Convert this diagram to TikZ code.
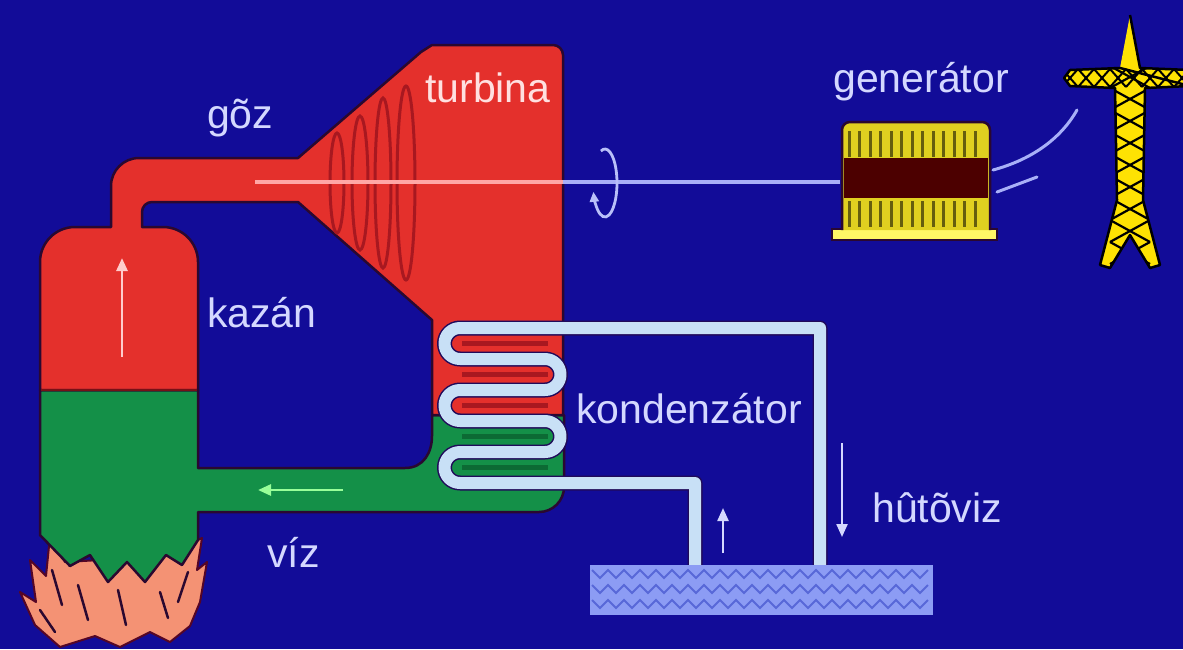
\documentclass[tikz,border=0pt]{standalone}
\usepackage{fontspec}
\setmainfont{Liberation Sans}
\usetikzlibrary{arrows.meta}
\definecolor{bg}{HTML}{120C98}
\definecolor{steam}{HTML}{E4302C}
\definecolor{steamdark}{HTML}{A81820}
\definecolor{water}{HTML}{149048}
\definecolor{waterdark}{HTML}{0C6A34}
\definecolor{outline}{HTML}{2A0830}
\definecolor{txt}{HTML}{D4D8FF}
\definecolor{tube}{HTML}{C8E0F6}
\definecolor{shaft}{HTML}{A8B0F8}
\definecolor{flame}{HTML}{F49274}
\definecolor{genyellow}{HTML}{E0D020}
\definecolor{pool}{HTML}{8C9CF4}
\definecolor{poolline}{HTML}{5868D8}
\begin{document}
\begin{tikzpicture}[x=1pt,y=-1pt,
  lbl/.style={text=txt,font=\fontsize{41}{41}\selectfont,inner sep=0pt,anchor=base west},
  shape edge/.style={draw=outline,line width=2.5pt,line join=round},
  thin arrow/.style={line width=2.8pt,-{Triangle[length=13pt,width=11pt]}},
  pipe/.style={line width=12pt,tube,line join=round}]
\useasboundingbox (0,0) rectangle (1183,649);
\fill[bg] (0,0) rectangle (1183,649);

% flames under the boiler
\path[fill=flame,draw=outline!80!red,line width=2pt,line join=round]
  (60,647) -- (35,625) -- (20,592) -- (36,602) -- (30,560) -- (46,576) -- (50,536)
  -- (65,562) -- (100,560) -- (150,560) -- (185,546) -- (202,538) -- (197,570)
  -- (207,562) -- (200,602) -- (190,626) -- (170,642) -- (150,632) -- (120,647)
  -- (95,636) -- cycle;
\draw[outline,line width=2.5pt,line cap=round]
  (52,570) -- (62,605) (78,585) -- (88,620) (118,590) -- (126,625)
  (160,592) -- (168,618) (188,572) -- (178,602) (40,610) -- (55,632);

% water side: lower boiler, feed pipe and condenser bottom
\path[fill=water,shape edge]
  (40,390) -- (198,390) -- (198,468) -- (405,468)
  .. controls (424,468) and (432,452) .. (432,436) -- (432,415) -- (564,415)
  -- (564,487) arc[start angle=0,end angle=90,radius=25] -- (198,512)
  -- (198,540) -- (182,565) -- (166,555) -- (145,582) -- (127,562) -- (108,582)
  -- (90,555) -- (70,566) -- (40,535) -- cycle;

% steam side: upper boiler, steam pipe, turbine and condenser top
\path[fill=steam,shape edge]
  (40,390) -- (40,262) arc[start angle=180,end angle=270,radius=35]
  -- (111,227) -- (111,186) arc[start angle=180,end angle=270,radius=28]
  -- (298,158) -- (421,52) -- (432,45) -- (553,45)
  arc[start angle=270,end angle=360,radius=10] -- (563,415) -- (432,415)
  -- (432,320) -- (298,202) -- (152,202)
  arc[start angle=270,end angle=180,radius=10] -- (142,227) -- (163,227)
  arc[start angle=270,end angle=360,radius=35] -- (198,390) -- cycle;
\draw[steamdark!70!black,line width=2pt] (41,390) -- (197,390);

% shading between the condenser coil turns
\foreach \y in {343.5,374.5,405.5}
  \draw[steamdark,line width=5pt] (462,\y) -- (548,\y);
\foreach \y in {436.5,467.5}
  \draw[waterdark,line width=5pt] (462,\y) -- (548,\y);

% cooling water circuit through the condenser coil
\draw[line width=15pt,outline!60!bg,line join=round]
  (820,565) -- (820,328) -- (460,328)
  arc[start angle=270,end angle=90,radius=15.5] -- (545,359)
  arc[start angle=270,end angle=450,radius=15.5] -- (460,390)
  arc[start angle=270,end angle=90,radius=15.5] -- (545,421)
  arc[start angle=270,end angle=450,radius=15.5] -- (460,452)
  arc[start angle=270,end angle=90,radius=15.5] -- (695,483) -- (695,565);
\draw[pipe]
  (820,565) -- (820,328) -- (460,328)
  arc[start angle=270,end angle=90,radius=15.5] -- (545,359)
  arc[start angle=270,end angle=450,radius=15.5] -- (460,390)
  arc[start angle=270,end angle=90,radius=15.5] -- (545,421)
  arc[start angle=270,end angle=450,radius=15.5] -- (460,452)
  arc[start angle=270,end angle=90,radius=15.5] -- (695,483) -- (695,565);

% turbine blade rings
\foreach \x/\ry/\rx in {337/50/7,360/67/8,383/85/8,406/97/9}
  \draw[steamdark,line width=3pt] (\x,183) ellipse[x radius=\rx,y radius=\ry];

% shaft from the turbine to the generator
\draw[shaft,line width=4pt] (563,182) -- (840,182);
\draw[red!35!white,line width=4pt] (255,182) -- (563,182);

% rotation mark on the shaft
\draw[shaft!80!white,line width=2.8pt,-{Triangle[length=10pt,width=9pt]}]
  (605,183) ++(-110:12 and 34) arc[start angle=-110,end angle=165,x radius=12,y radius=34];

% flow arrows
\draw[thin arrow,red!20!white] (122,357) -- (122,258);
\draw[thin arrow,green!40!white] (343,490) -- (258,490);
\draw[thin arrow,txt,line width=2.3pt] (723,553) -- (723,508);
\draw[thin arrow,txt,line width=2.3pt] (842,443) -- (842,537);

% generator
\fill[yellow!60!white,draw=outline,line width=2pt] (832,229) rectangle (997,240);
\path[fill=genyellow,draw=outline,line width=2.5pt,rounded corners=8pt]
  (842,230) -- (842,122) -- (990,122) -- (990,230);
\foreach \x in {849,859.5,...,985}{
  \draw[genyellow!45!black,line width=3pt] (\x,131) -- (\x,157);
  \draw[genyellow!45!black,line width=3pt] (\x,201) -- (\x,227);
}
\fill[black!70!red] (844,158) rectangle (988,198);

% power lines to the pylon
\draw[shaft,line width=3pt,line cap=round] (993,170) .. controls (1030,160) and (1060,140) .. (1077,110);
\draw[shaft,line width=3pt,line cap=round] (997,192) -- (1037,177);

% pylon
\begin{scope}
\clip (1130,15) -- (1140,68) -- (1190,70) -- (1190,86) -- (1145,88) -- (1143,200)
  -- (1160,265) -- (1150,268) -- (1130,235) -- (1110,268) -- (1100,265) -- (1117,200)
  -- (1115,88) -- (1070,86) -- (1064,78) -- (1070,70) -- (1120,68) -- cycle;
\fill[yellow!85!orange] (1060,10) rectangle (1190,270);
\foreach \y in {66,88,...,250}{
  \draw[black,line width=2.2pt] (1110,\y) -- (1150,\y+22);
  \draw[black,line width=2.2pt] (1150,\y) -- (1110,\y+22);
}
\foreach \x in {1062,1078,...,1190}{
  \draw[black,line width=2pt] (\x,69) -- (\x+16,87);
  \draw[black,line width=2pt] (\x,87) -- (\x+16,69);
}
\end{scope}
\draw[black,line width=2.5pt,line join=round]
  (1130,15) -- (1140,68) -- (1190,70) (1190,86) -- (1145,88) -- (1143,200)
  -- (1160,265) -- (1150,268) -- (1130,235) -- (1110,268) -- (1100,265) -- (1117,200)
  -- (1115,88) -- (1070,86) -- (1064,78) -- (1070,70) -- (1120,68) -- cycle;

% cooling pond
\fill[pool] (590,565) rectangle (933,615);
\foreach \y in {570,585,600}
  \draw[poolline,line width=2pt] (592,\y) \foreach \i in {1,...,21}{ -- ++(8,8) -- ++(8,-8) };

% labels
\node[lbl] (goz) at (207,128) {gõz};
\node[lbl,text=red!12!white] (turbina) at (425,102) {turbina};
\node[lbl] (generator) at (833,92) {generátor};
\node[lbl] (kazan) at (207,327) {kazán};
\node[lbl] (kondenzator) at (576,423) {kondenzátor};
\node[lbl] (hutoviz) at (872,522) {hûtõviz};
\node[lbl] (viz) at (267,567) {víz};
\end{tikzpicture}
\end{document}
